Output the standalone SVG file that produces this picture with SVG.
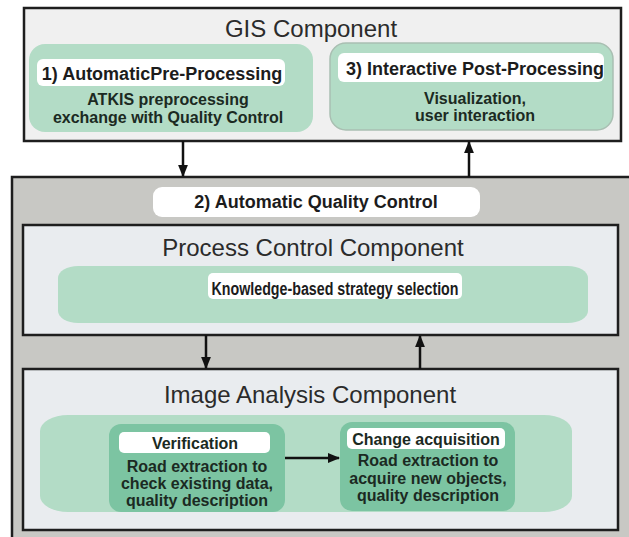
<svg xmlns="http://www.w3.org/2000/svg" width="629" height="537" viewBox="0 0 629 537">
  <defs>
    <style>
      .frame { stroke: #1e1e1e; stroke-width: 2.5; }
      .title { font-family: "Liberation Sans", Arial, sans-serif; font-size: 24px; fill: #2b2b2b; text-anchor: middle; }
      .label { font-family: "Liberation Sans", Arial, sans-serif; font-size: 18px; font-weight: bold; fill: #1c1c1c; text-anchor: middle; }
      .body { font-family: "Liberation Sans", Arial, sans-serif; font-size: 16px; font-weight: bold; fill: #1b2a22; text-anchor: middle; }
      .chip { fill: #ffffff; }
      .green { fill: #b3dcc6; }
      .dgreen { fill: #7cc4a2; }
      .conn { stroke: #111; stroke-width: 2.5; fill: none; }
    </style>
    <marker id="ah" viewBox="0 0 10 10" refX="9" refY="5" markerWidth="5" markerHeight="5" orient="auto" markerUnits="strokeWidth">
      <path d="M0,1 L10,5 L0,9 z" fill="#111"/>
    </marker>
  </defs>

  <rect x="0" y="0" width="629" height="537" fill="#ffffff"/>

  <g id="outer-qc">
    <rect x="12" y="177" width="630" height="380" fill="#c8c8c4" class="frame"/>
    <rect x="153" y="187" width="327" height="30" rx="9" class="chip"/>
    <text x="316" y="208" class="label">2) Automatic Quality Control</text>
  </g>

  <g id="gis">
    <rect x="24" y="8" width="597" height="133" fill="#f0f0f0" class="frame"/>
    <text x="311" y="37" class="title">GIS Component</text>
  </g>

  <g id="pre-processing">
    <rect x="29" y="44" width="284" height="88" rx="16" class="green"/>
    <rect x="37" y="59" width="248" height="27" rx="6" class="chip"/>
    <text x="162" y="80" class="label">1) AutomaticPre-Processing</text>
    <text x="168" y="105" class="body">ATKIS preprocessing</text>
    <text x="168" y="123" class="body">exchange with Quality Control</text>
  </g>

  <g id="post-processing">
    <rect x="330" y="43" width="283" height="87" rx="16" class="green" stroke="#a9bfb2" stroke-width="1.5"/>
    <rect x="338" y="53" width="266" height="29" rx="6" class="chip"/>
    <text x="475" y="75" class="label">3) Interactive Post-Processing</text>
    <text x="475" y="104" class="body">Visualization,</text>
    <text x="475" y="121" class="body">user interaction</text>
  </g>

  <g id="process-control">
    <rect x="23" y="225" width="595" height="110" fill="#e9ecef" class="frame"/>
    <text x="313" y="256" class="title">Process Control Component</text>
    <rect x="58" y="266" width="530" height="57" rx="20" ry="12" class="green"/>
    <rect x="208" y="273" width="254" height="26" rx="5" class="chip"/>
    <text x="335" y="295" class="label" font-size="19" textLength="247" lengthAdjust="spacingAndGlyphs">Knowledge-based strategy selection</text>
  </g>

  <g id="image-analysis">
    <rect x="23" y="369" width="595" height="161" fill="#e9ecef" class="frame"/>
    <text x="310" y="403" class="title">Image Analysis Component</text>
    <rect x="40" y="415" width="532" height="97" rx="28" ry="16" class="green"/>
  </g>

  <g id="verification">
    <rect x="109" y="424" width="176" height="88" rx="12" class="dgreen"/>
    <rect x="119" y="432" width="151" height="21" rx="5" class="chip"/>
    <text x="195" y="449" class="body" font-size="17">Verification</text>
    <text x="197" y="472" class="body">Road extraction to</text>
    <text x="197" y="489" class="body">check existing data,</text>
    <text x="197" y="506" class="body">quality description</text>
  </g>

  <g id="change-acquisition">
    <rect x="340" y="422" width="175" height="89" rx="12" class="dgreen"/>
    <rect x="347" y="428" width="158" height="21" rx="5" class="chip"/>
    <text x="426" y="445" class="body" font-size="17">Change acquisition</text>
    <text x="428" y="466" class="body">Road extraction to</text>
    <text x="428" y="484" class="body">acquire new objects,</text>
    <text x="428" y="501" class="body">quality description</text>
  </g>

  <g id="connectors">
    <line x1="183" y1="141" x2="183" y2="176" class="conn" marker-end="url(#ah)"/>
    <line x1="469" y1="177" x2="469" y2="142" class="conn" marker-end="url(#ah)"/>
    <line x1="206" y1="335" x2="206" y2="368" class="conn" marker-end="url(#ah)"/>
    <line x1="420" y1="369" x2="420" y2="336" class="conn" marker-end="url(#ah)"/>
    <line x1="285" y1="458" x2="339" y2="458" class="conn" marker-end="url(#ah)"/>
  </g>
</svg>
